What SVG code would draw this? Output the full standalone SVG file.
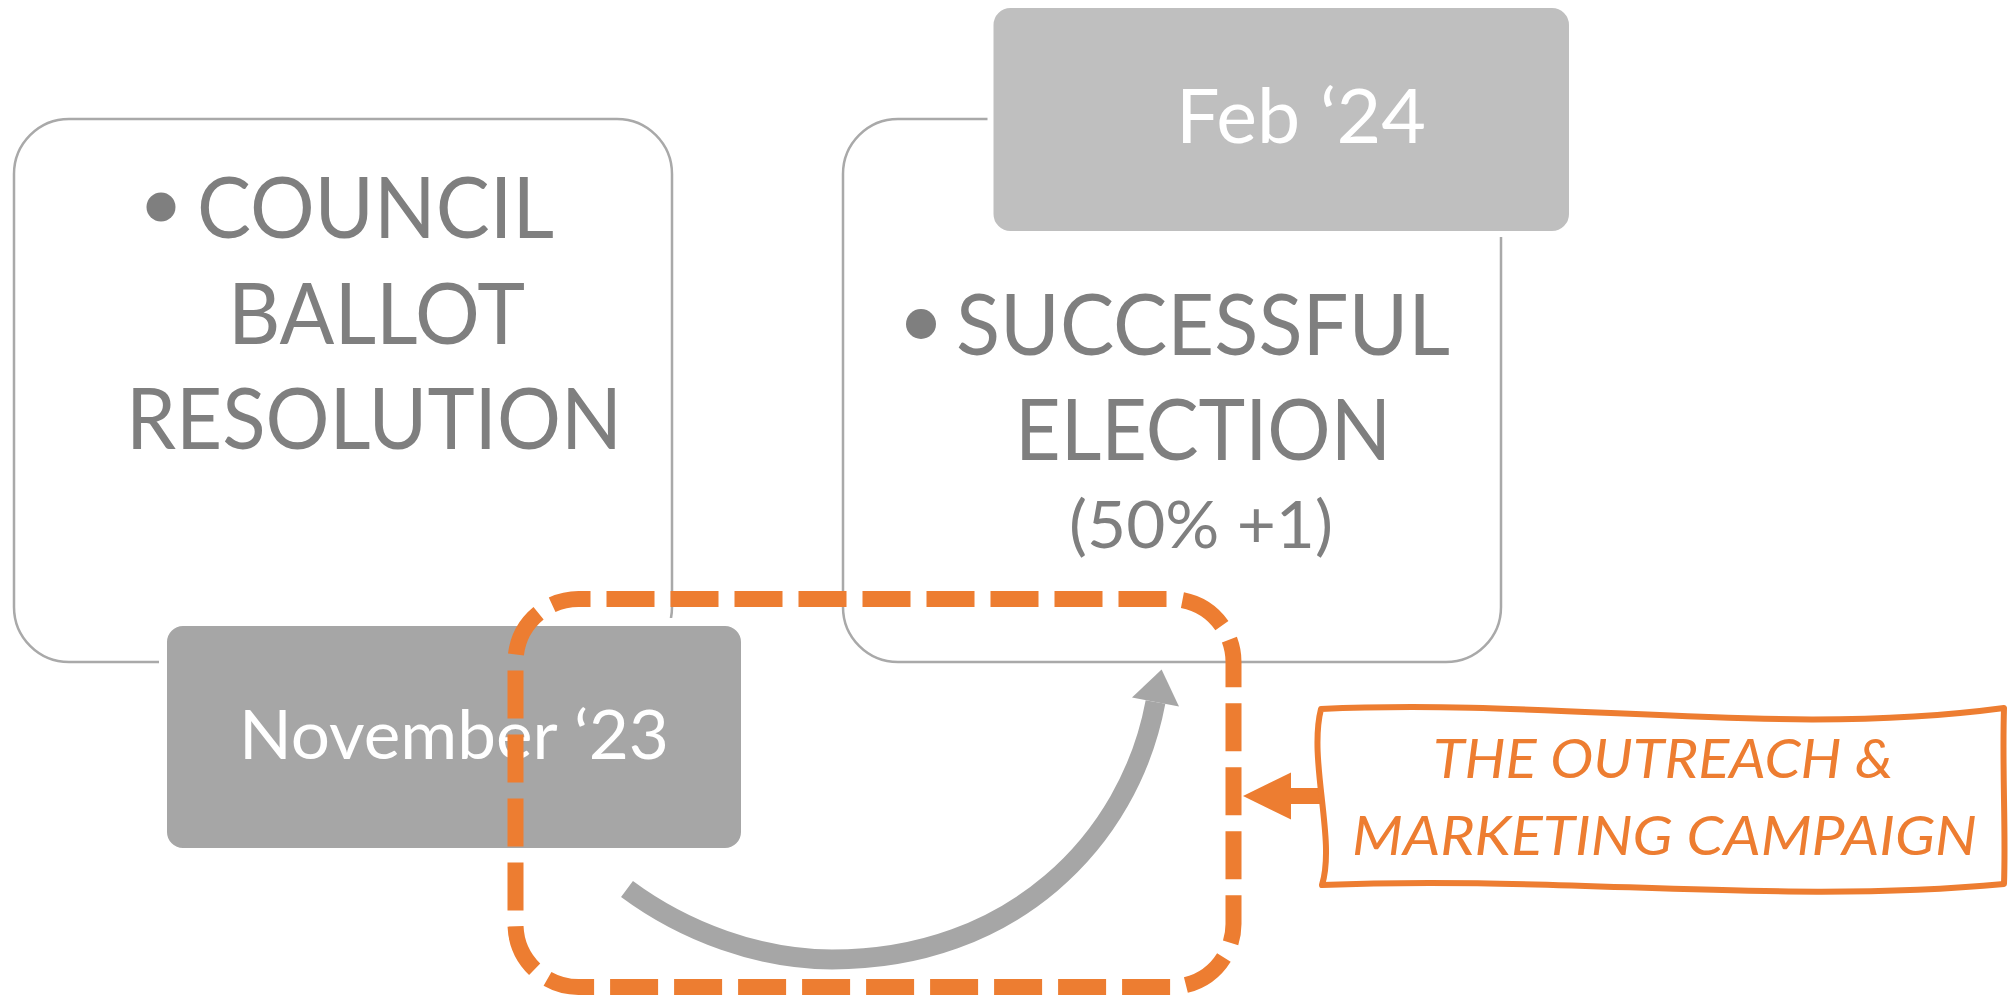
<svg xmlns="http://www.w3.org/2000/svg" width="2008" height="996" viewBox="0 0 2008 996">
<style>
.frame{fill:#ffffff;stroke:#a9a9a9;stroke-width:2.5}
.big{font-family:Lato,"Open Sans","Liberation Sans",sans-serif;font-size:85px;fill:#7f7f7f;text-anchor:middle}
.small{font-family:Lato,"Open Sans","Liberation Sans",sans-serif;font-size:66px;fill:#7f7f7f;text-anchor:middle}
.date{font-family:Lato,"Open Sans","Liberation Sans",sans-serif;fill:#ffffff;text-anchor:middle}
.camp{font-family:Lato,"Open Sans","Liberation Sans",sans-serif;font-size:55px;font-style:italic;fill:#ED7D31;text-anchor:middle}
.bullet{fill:#7f7f7f}
</style>
<rect width="2008" height="996" fill="#ffffff"/>
<g id="node-council">
<rect class="frame" x="14" y="119" width="658" height="543" rx="55" ry="55"/>
<circle class="bullet" cx="161" cy="207" r="14.5"/>
<text class="big" x="375.5" y="238" textLength="357" lengthAdjust="spacingAndGlyphs">COUNCIL</text>
<text class="big" x="376.5" y="344" textLength="297" lengthAdjust="spacingAndGlyphs">BALLOT</text>
<text class="big" x="374" y="449" textLength="496" lengthAdjust="spacingAndGlyphs">RESOLUTION</text>
</g>
<g id="node-election">
<rect class="frame" x="843" y="119" width="658" height="543" rx="55" ry="55"/>
<circle class="bullet" cx="921" cy="324" r="15"/>
<text class="big" x="1203" y="355" textLength="494" lengthAdjust="spacingAndGlyphs">SUCCESSFUL</text>
<text class="big" x="1203" y="460" textLength="376" lengthAdjust="spacingAndGlyphs">ELECTION</text>
<text class="small" x="1201" y="548" textLength="264" lengthAdjust="spacingAndGlyphs">(50% +1)</text>
</g>
<g id="node-feb">
<rect x="990.5" y="5" width="581.5" height="229" rx="20" ry="20" fill="#bfbfbf" stroke="#ffffff" stroke-width="6"/>
<text class="date" x="1301" y="143" font-size="75" textLength="250" lengthAdjust="spacingAndGlyphs">Feb ‘24</text>
</g>
<g id="node-november">
<rect x="163" y="622" width="582" height="230" rx="20" ry="20" fill="#a6a6a6" stroke="#ffffff" stroke-width="8"/>
<text class="date" x="454" y="759" font-size="67" textLength="430" lengthAdjust="spacingAndGlyphs">November ‘23</text>
</g>
<g id="node-outreach-frame">
<path d="M 578.5 599 H 1170.5 A 63 63 0 0 1 1233.5 662 V 924 A 63 63 0 0 1 1170.5 987 H 578.5 A 63 63 0 0 1 515.5 924 V 662 A 63 63 0 0 1 578.5 599 Z" fill="none" stroke="#ED7D31" stroke-width="16" stroke-dasharray="48 16" stroke-dashoffset="36"/>
</g>
<g id="connectors">
<path d="M 627 889 C 685 932 760 959.5 832 959.5 C 1011 959.5 1129.4 841.6 1155.5 702" fill="none" stroke="#a6a6a6" stroke-width="20"/>
<polygon points="1161.6,669.6 1132,697.6 1179,706.4" fill="#a6a6a6"/>
<path d="M 1322 796 H 1289" fill="none" stroke="#ED7D31" stroke-width="16"/>
<polygon points="1291,772.5 1243,796 1291,819.5" fill="#ED7D31"/>
</g>
<g id="node-campaign">
<path d="M 1321 709 C 1560 698 1780 738 2004 708 C 2002 770 2006 830 2004 884 C 1780 905 1560 875 1322 885 C 1336 840 1308 760 1321 709 Z" fill="#ffffff" stroke="#ED7D31" stroke-width="6" stroke-linejoin="round"/>
<text class="camp" x="1663" y="778" textLength="460" lengthAdjust="spacingAndGlyphs">THE OUTREACH &amp;</text>
<text class="camp" x="1664.5" y="855" textLength="625" lengthAdjust="spacingAndGlyphs">MARKETING CAMPAIGN</text>
</g>
</svg>
